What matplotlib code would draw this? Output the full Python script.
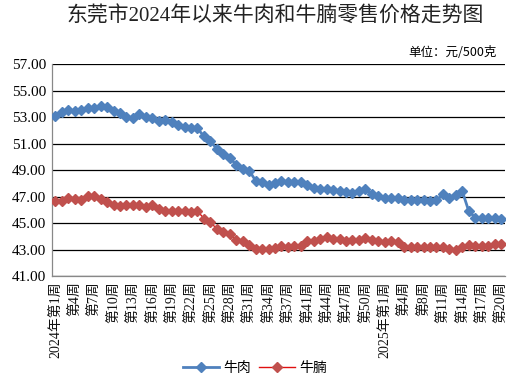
import matplotlib

matplotlib.use("Agg")
import matplotlib.pyplot as plt

plt.rcParams["font.family"] = ["Liberation Serif", "Noto Sans CJK SC"]

# 2024: weeks 1-52 without week 40; 2025: weeks 1-20 without week 5
weeks_2024 = [w for w in range(1, 53) if w != 40]
weeks_2025 = [w for w in range(1, 21) if w != 5]

beef = [53.12, 53.42, 53.55, 53.48, 53.58, 53.70, 53.67, 53.82, 53.78, 53.50,
        53.30, 53.05, 52.92, 53.25, 53.02, 52.92, 52.72, 52.78, 52.62, 52.42,
        52.30, 52.22, 52.17, 51.55, 51.22, 50.60, 50.22, 49.92, 49.42, 49.12,
        48.97, 48.22, 48.10, 47.87, 48.05, 48.22, 48.12, 48.12, 48.10, 47.92,
        47.67, 47.55, 47.60, 47.50, 47.42, 47.35, 47.30, 47.42, 47.55, 47.22,
        47.05, 46.92, 46.87, 46.87, 46.72, 46.72, 46.72, 46.72, 46.67, 46.72,
        47.17, 46.87, 47.10, 47.42, 45.92, 45.42, 45.37, 45.42, 45.42, 45.35]

brisket = [46.67, 46.67, 46.87, 46.82, 46.77, 47.02, 47.07, 46.85, 46.62, 46.37,
           46.30, 46.35, 46.35, 46.35, 46.22, 46.40, 46.10, 45.95, 45.92, 45.92,
           45.92, 45.87, 45.92, 45.35, 45.10, 44.55, 44.37, 44.17, 43.75, 43.67,
           43.37, 43.02, 43.02, 43.02, 43.12, 43.30, 43.22, 43.30, 43.30, 43.67,
           43.67, 43.80, 43.92, 43.80, 43.80, 43.67, 43.72, 43.72, 43.87, 43.72,
           43.67, 43.55, 43.67, 43.60, 43.17, 43.17, 43.22, 43.22, 43.17, 43.17,
           43.22, 43.05, 42.97, 43.22, 43.37, 43.30, 43.30, 43.30, 43.40, 43.45]

labels = []
for w in weeks_2024:
    labels.append(f"2024年第{w}周" if w == 1 else f"第{w}周")
for w in weeks_2025:
    labels.append(f"2025年第{w}周" if w == 1 else f"第{w}周")

y_ticks = [41, 43, 45, 47, 49, 51, 53, 55, 57]

x = list(range(len(labels)))

fig = plt.figure(figsize=(5.1, 3.83), dpi=100)
ax = fig.add_axes([0.101, 0.279, 0.889, 0.553])

ax.plot(x, beef, color="#4F81BD", lw=2, marker="D", markersize=4.6,
        markerfacecolor="#4F81BD", markeredgecolor="#4F81BD", label="牛肉", zorder=3)
ax.plot(x, brisket, color="#E01010", lw=1, marker="D", markersize=4.6,
        markerfacecolor="#C0504D", markeredgecolor="#C0504D", label="牛腩", zorder=3)

ax.set_xlim(-0.6, len(labels) - 0.4)
ax.set_ylim(41, 57)
ax.set_yticks(y_ticks)
ax.set_yticklabels([f"{v:.2f}" for v in y_ticks], fontsize=11)
ax.set_xticks(x[::3])
ax.set_xticklabels(labels[::3], rotation=90, fontsize=10, va="top", ha="center",
                   color="#111111")
ax.tick_params(length=0, pad=4)
ax.grid(axis="y", color="black", lw=0.9)
ax.set_axisbelow(True)
for side in ["top", "right"]:
    ax.spines[side].set_visible(False)
for side in ["left", "bottom"]:
    ax.spines[side].set_color("#888888")
    ax.spines[side].set_linewidth(0.9)

fig.text(275 / 510, 1 - 17 / 383, "东莞市2024年以来牛肉和牛腩零售价格走势图",
         ha="center", va="center", fontsize=15, color="#222222")
fig.text(497 / 510, 1 - 53 / 383, "单位：元/500克", ha="right", va="center",
         fontsize=9, family=["Noto Sans CJK SC", "DejaVu Sans"])

fig.legend(loc="center", bbox_to_anchor=(0.5, 1 - 368 / 383), ncol=2, frameon=False,
           handlelength=2.6, handletextpad=0.3, columnspacing=0.6,
           prop={"family": ["Noto Sans CJK SC", "DejaVu Sans"], "size": 10})

fig.savefig("out.png", dpi=100)
